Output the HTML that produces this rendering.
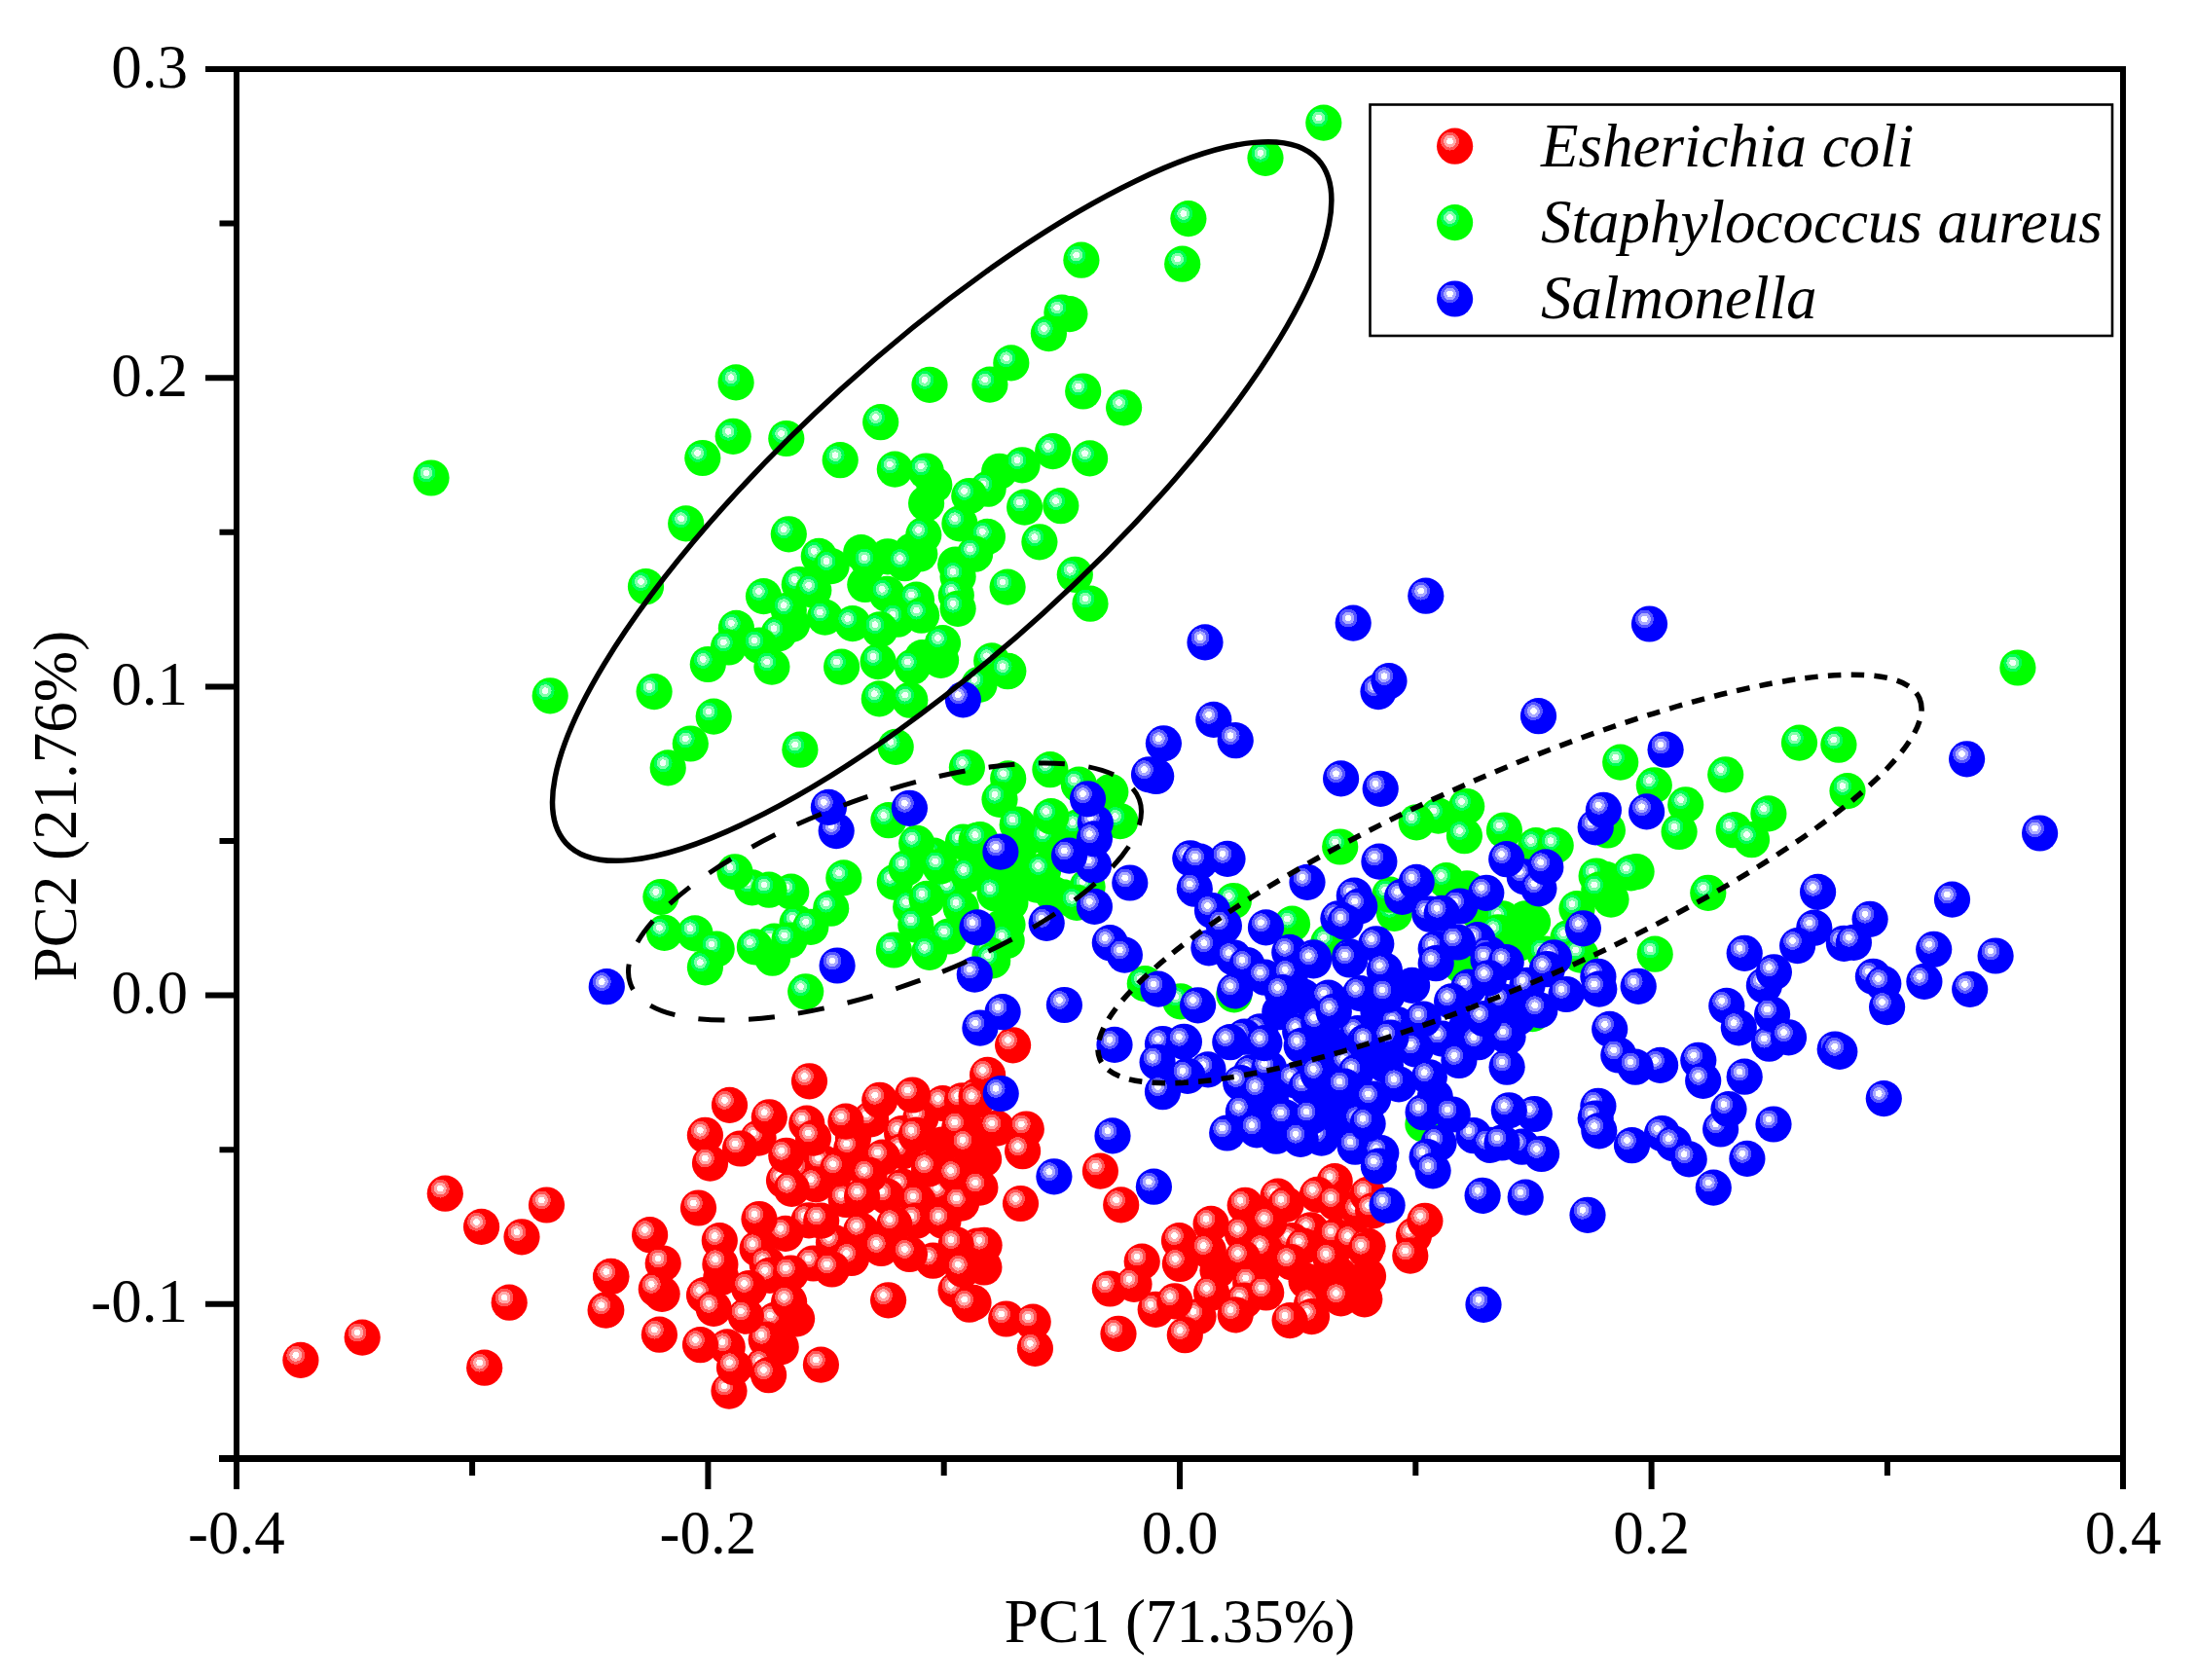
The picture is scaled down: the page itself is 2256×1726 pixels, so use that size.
<!DOCTYPE html>
<html><head><meta charset="utf-8"><title>PCA score plot</title>
<style>
html,body{margin:0;padding:0;background:#fff}
svg{display:block}
text{font-family:"Liberation Serif",serif;fill:#000}
.t{font-size:63px}
.lg{font-size:63px;font-style:italic}
</style></head><body>
<svg width="2256" height="1726" viewBox="0 0 2256 1726">
<defs>
<radialGradient id="gr" cx="0.363" cy="0.363" r="0.766" fx="0.363" fy="0.363">
<stop offset="0" stop-color="#fff"/><stop offset="0.119" stop-color="#fff"/>
<stop offset="0.119" stop-color="#ffaaaa"/><stop offset="0.2246" stop-color="#ffaaaa"/>
<stop offset="0.2246" stop-color="#ff5555"/><stop offset="0.33" stop-color="#ff5555"/>
<stop offset="0.33" stop-color="#ff0000"/><stop offset="1" stop-color="#ff0000"/>
</radialGradient>
<radialGradient id="gg" cx="0.363" cy="0.363" r="0.766" fx="0.363" fy="0.363">
<stop offset="0" stop-color="#f4fff8"/><stop offset="0.119" stop-color="#f4fff8"/>
<stop offset="0.119" stop-color="#80ffaa"/><stop offset="0.2246" stop-color="#80ffaa"/>
<stop offset="0.2246" stop-color="#00ff55"/><stop offset="0.33" stop-color="#00ff55"/>
<stop offset="0.33" stop-color="#00ff00"/><stop offset="1" stop-color="#00ff00"/>
</radialGradient>
<radialGradient id="gb" cx="0.363" cy="0.363" r="0.766" fx="0.363" fy="0.363">
<stop offset="0" stop-color="#fff"/><stop offset="0.119" stop-color="#fff"/>
<stop offset="0.119" stop-color="#aaaaff"/><stop offset="0.2246" stop-color="#aaaaff"/>
<stop offset="0.2246" stop-color="#5555ff"/><stop offset="0.33" stop-color="#5555ff"/>
<stop offset="0.33" stop-color="#0000ff"/><stop offset="1" stop-color="#0000ff"/>
</radialGradient>
</defs>
<rect width="2256" height="1726" fill="#fff"/>

<g fill="#ff0000">
<circle cx="1005.1" cy="1167.2" r="18.6"/>
<circle cx="1010.6" cy="1190.9" r="18.6"/>
<circle cx="818.6" cy="1354.8" r="18.6"/>
<circle cx="802.2" cy="1383.9" r="18.6"/>
<circle cx="740.8" cy="1312.5" r="18.6"/>
<circle cx="680.1" cy="1329.3" r="18.6"/>
<circle cx="1010.9" cy="1302" r="18.6"/>
<circle cx="1000" cy="1338.4" r="18.6"/>
<circle cx="1251" cy="1305.2" r="18.6"/>
<circle cx="1342.1" cy="1316.2" r="18.6"/>
<circle cx="1396.7" cy="1325.3" r="18.6"/>
<circle cx="1296.5" cy="1305.2" r="18.6"/>
<circle cx="1405.5" cy="1311.1" r="18.6"/>
<circle cx="1401.8" cy="1334.8" r="18.6"/>
<circle cx="968" cy="1176" r="18.6"/>
<circle cx="1376" cy="1310" r="18.6"/>
<circle cx="1360.1" cy="1320.1" r="18.6"/>
</g>
<g fill="url(#gr)">
<circle cx="779.1" cy="1169.1" r="18.6"/>
<circle cx="968.5" cy="1133.6" r="18.6"/>
<circle cx="894.7" cy="1149.9" r="18.6"/>
<circle cx="876.5" cy="1169.1" r="18.6"/>
<circle cx="874.7" cy="1180" r="18.6"/>
<circle cx="926.6" cy="1164.5" r="18.6"/>
<circle cx="945.7" cy="1149" r="18.6"/>
<circle cx="927.5" cy="1182.7" r="18.6"/>
<circle cx="906.6" cy="1189.1" r="18.6"/>
<circle cx="822.8" cy="1202.8" r="18.6"/>
<circle cx="845.5" cy="1194.6" r="18.6"/>
<circle cx="838.3" cy="1216.8" r="18.6"/>
<circle cx="805.5" cy="1212.8" r="18.6"/>
<circle cx="927.5" cy="1219.2" r="18.6"/>
<circle cx="869.2" cy="1232.5" r="18.6"/>
<circle cx="911.1" cy="1229.2" r="18.6"/>
<circle cx="967.6" cy="1225.5" r="18.6"/>
<circle cx="831" cy="1253.8" r="18.6"/>
<circle cx="806.9" cy="1267.4" r="18.6"/>
<circle cx="856.5" cy="1276.5" r="18.6"/>
<circle cx="831.5" cy="1110.8" r="18.6"/>
<circle cx="749.5" cy="1135.4" r="18.6"/>
<circle cx="790.3" cy="1147.8" r="18.6"/>
<circle cx="724.4" cy="1166.3" r="18.6"/>
<circle cx="760.5" cy="1180" r="18.6"/>
<circle cx="729.5" cy="1195.1" r="18.6"/>
<circle cx="903.8" cy="1130.3" r="18.6"/>
<circle cx="937.5" cy="1125" r="18.6"/>
<circle cx="988.5" cy="1130.8" r="18.6"/>
<circle cx="1003.1" cy="1126.3" r="18.6"/>
<circle cx="828.8" cy="1154.1" r="18.6"/>
<circle cx="868.9" cy="1152.1" r="18.6"/>
<circle cx="835.5" cy="1169.1" r="18.6"/>
<circle cx="807.8" cy="1187.3" r="18.6"/>
<circle cx="941.2" cy="1166.3" r="18.6"/>
<circle cx="985.8" cy="1158.1" r="18.6"/>
<circle cx="994" cy="1176.4" r="18.6"/>
<circle cx="860.7" cy="1200.9" r="18.6"/>
<circle cx="892.9" cy="1207.3" r="18.6"/>
<circle cx="954.5" cy="1200.9" r="18.6"/>
<circle cx="981.8" cy="1207.7" r="18.6"/>
<circle cx="813.3" cy="1221.3" r="18.6"/>
<circle cx="885.6" cy="1229.2" r="18.6"/>
<circle cx="943" cy="1234.1" r="18.6"/>
<circle cx="987.6" cy="1236.1" r="18.6"/>
<circle cx="717.5" cy="1241" r="18.6"/>
<circle cx="780" cy="1252.5" r="18.6"/>
<circle cx="843.7" cy="1254.1" r="18.6"/>
<circle cx="941.2" cy="1254.3" r="18.6"/>
<circle cx="969" cy="1254.3" r="18.6"/>
<circle cx="918.8" cy="1257.8" r="18.6"/>
<circle cx="884.7" cy="1264.3" r="18.6"/>
<circle cx="667.6" cy="1268.7" r="18.6"/>
<circle cx="739.3" cy="1274.7" r="18.6"/>
<circle cx="778.1" cy="1282.9" r="18.6"/>
<circle cx="904.7" cy="1281.1" r="18.6"/>
<circle cx="1004" cy="1280.2" r="18.6"/>
<circle cx="1003.3" cy="1130.8" r="18.6"/>
<circle cx="1312.9" cy="1229.2" r="18.6"/>
<circle cx="1371.2" cy="1213.7" r="18.6"/>
<circle cx="1346.6" cy="1263.8" r="18.6"/>
<circle cx="1327.5" cy="1274.7" r="18.6"/>
<circle cx="1040.6" cy="1073.8" r="18.6"/>
<circle cx="1014.6" cy="1104.4" r="18.6"/>
<circle cx="1023.9" cy="1159.1" r="18.6"/>
<circle cx="1054.3" cy="1160" r="18.6"/>
<circle cx="1050.6" cy="1182.7" r="18.6"/>
<circle cx="1006.9" cy="1220.1" r="18.6"/>
<circle cx="1048.5" cy="1236.5" r="18.6"/>
<circle cx="1130.4" cy="1203.1" r="18.6"/>
<circle cx="1151.7" cy="1237.9" r="18.6"/>
<circle cx="1011.1" cy="1279.3" r="18.6"/>
<circle cx="1279.2" cy="1238.3" r="18.6"/>
<circle cx="1321.1" cy="1237.4" r="18.6"/>
<circle cx="1353.4" cy="1227.4" r="18.6"/>
<circle cx="1372.1" cy="1235.6" r="18.6"/>
<circle cx="1396.7" cy="1244.7" r="18.6"/>
<circle cx="1244.1" cy="1257.4" r="18.6"/>
<circle cx="1303.8" cy="1256.5" r="18.6"/>
<circle cx="1276.5" cy="1267.4" r="18.6"/>
<circle cx="1372.1" cy="1270.2" r="18.6"/>
<circle cx="1211.5" cy="1274.7" r="18.6"/>
<circle cx="1299.3" cy="1283.8" r="18.6"/>
<circle cx="1339.3" cy="1280.2" r="18.6"/>
<circle cx="1389.4" cy="1274.7" r="18.6"/>
<circle cx="1405.1" cy="1227.4" r="18.6"/>
<circle cx="1410.6" cy="1243.8" r="18.6"/>
<circle cx="1452.5" cy="1269.3" r="18.6"/>
<circle cx="1463.9" cy="1254.3" r="18.6"/>
<circle cx="1405.1" cy="1280.2" r="18.6"/>
<circle cx="457.3" cy="1226.2" r="18.6"/>
<circle cx="494.6" cy="1260.4" r="18.6"/>
<circle cx="561.5" cy="1238" r="18.6"/>
<circle cx="536" cy="1270.8" r="18.6"/>
<circle cx="627.6" cy="1311.4" r="18.6"/>
<circle cx="622.1" cy="1346" r="18.6"/>
<circle cx="523.2" cy="1338.2" r="18.6"/>
<circle cx="372.2" cy="1374.1" r="18.6"/>
<circle cx="308.9" cy="1397.4" r="18.6"/>
<circle cx="497.7" cy="1405.2" r="18.6"/>
<circle cx="788.2" cy="1298.9" r="18.6"/>
<circle cx="835.5" cy="1298" r="18.6"/>
<circle cx="874.7" cy="1292.5" r="18.6"/>
<circle cx="958.5" cy="1295.2" r="18.6"/>
<circle cx="982.1" cy="1278.8" r="18.6"/>
<circle cx="723.5" cy="1330.7" r="18.6"/>
<circle cx="796.4" cy="1356.2" r="18.6"/>
<circle cx="982.1" cy="1325.3" r="18.6"/>
<circle cx="747.2" cy="1383.9" r="18.6"/>
<circle cx="787.2" cy="1376.3" r="18.6"/>
<circle cx="784.5" cy="1402.7" r="18.6"/>
<circle cx="749" cy="1429.1" r="18.6"/>
<circle cx="681.2" cy="1298" r="18.6"/>
<circle cx="627.9" cy="1311.6" r="18.6"/>
<circle cx="674.3" cy="1324.4" r="18.6"/>
<circle cx="622.8" cy="1345.9" r="18.6"/>
<circle cx="677.4" cy="1371.2" r="18.6"/>
<circle cx="739.9" cy="1298.9" r="18.6"/>
<circle cx="790.9" cy="1310.3" r="18.6"/>
<circle cx="812.4" cy="1308" r="18.6"/>
<circle cx="854.6" cy="1304" r="18.6"/>
<circle cx="905.3" cy="1282.5" r="18.6"/>
<circle cx="934.4" cy="1288.5" r="18.6"/>
<circle cx="989.4" cy="1304.3" r="18.6"/>
<circle cx="769.6" cy="1323.5" r="18.6"/>
<circle cx="733.2" cy="1344.4" r="18.6"/>
<circle cx="766.3" cy="1352.1" r="18.6"/>
<circle cx="810.6" cy="1337.5" r="18.6"/>
<circle cx="912.6" cy="1335.8" r="18.6"/>
<circle cx="995.8" cy="1340.2" r="18.6"/>
<circle cx="719.5" cy="1381.7" r="18.6"/>
<circle cx="754.5" cy="1404.9" r="18.6"/>
<circle cx="789.6" cy="1412.7" r="18.6"/>
<circle cx="843.4" cy="1402.1" r="18.6"/>
<circle cx="1276.5" cy="1292.5" r="18.6"/>
<circle cx="1326.6" cy="1296.7" r="18.6"/>
<circle cx="1284.7" cy="1318" r="18.6"/>
<circle cx="1187.2" cy="1345.3" r="18.6"/>
<circle cx="1231" cy="1352.6" r="18.6"/>
<circle cx="1347.5" cy="1339.9" r="18.6"/>
<circle cx="1278.3" cy="1336.2" r="18.6"/>
<circle cx="1347.5" cy="1352.6" r="18.6"/>
<circle cx="1217.3" cy="1371.7" r="18.6"/>
<circle cx="1241.3" cy="1284.7" r="18.6"/>
<circle cx="1173.2" cy="1296.1" r="18.6"/>
<circle cx="1212.4" cy="1298.5" r="18.6"/>
<circle cx="1367.2" cy="1293.4" r="18.6"/>
<circle cx="1403.1" cy="1284.3" r="18.6"/>
<circle cx="1140.3" cy="1324" r="18.6"/>
<circle cx="1165" cy="1319.3" r="18.6"/>
<circle cx="1244.6" cy="1328.4" r="18.6"/>
<circle cx="1300.7" cy="1328" r="18.6"/>
<circle cx="1377.6" cy="1333.8" r="18.6"/>
<circle cx="1206.9" cy="1336.8" r="18.6"/>
<circle cx="1269.2" cy="1350.8" r="18.6"/>
<circle cx="1325.1" cy="1356.6" r="18.6"/>
<circle cx="1033.7" cy="1355" r="18.6"/>
<circle cx="1061.2" cy="1358.1" r="18.6"/>
<circle cx="1063.4" cy="1385.4" r="18.6"/>
<circle cx="1149" cy="1370.3" r="18.6"/>
<circle cx="1448.8" cy="1290.1" r="18.6"/>
</g>
<g fill="#00ff00">
<circle cx="1047" cy="870.9" r="18.6"/>
<circle cx="1065.2" cy="909.1" r="18.6"/>
<circle cx="1037.9" cy="927.4" r="18.6"/>
<circle cx="1016" cy="890.9" r="18.6"/>
<circle cx="1081.6" cy="918.3" r="18.6"/>
<circle cx="1140.8" cy="813.5" r="18.6"/>
<circle cx="1092.5" cy="921.9" r="18.6"/>
<circle cx="1028.8" cy="952.9" r="18.6"/>
<circle cx="1651.4" cy="853" r="18.6"/>
<circle cx="1681.1" cy="895.5" r="18.6"/>
<circle cx="1655" cy="924.1" r="18.6"/>
<circle cx="1518" cy="936.5" r="18.6"/>
<circle cx="1559.9" cy="969.3" r="18.6"/>
<circle cx="1574.5" cy="947.4" r="18.6"/>
<circle cx="1507.1" cy="912.8" r="18.6"/>
<circle cx="1567.2" cy="943.8" r="18.6"/>
<circle cx="793.6" cy="984.2" r="18.6"/>
<circle cx="1267.8" cy="1021.9" r="18.6"/>
<circle cx="1501.6" cy="992.4" r="18.6"/>
<circle cx="1574.5" cy="1041.6" r="18.6"/>
<circle cx="1461.9" cy="1154.9" r="18.6"/>
<circle cx="1040" cy="895" r="18.6"/>
<circle cx="1035" cy="950" r="18.6"/>
<circle cx="959.8" cy="498" r="18.6"/>
<circle cx="951.6" cy="517.1" r="18.6"/>
<circle cx="936.6" cy="566.3" r="18.6"/>
<circle cx="944.8" cy="569" r="18.6"/>
<circle cx="884.7" cy="567.7" r="18.6"/>
<circle cx="912" cy="571.8" r="18.6"/>
<circle cx="888.8" cy="600.5" r="18.6"/>
<circle cx="981.7" cy="580" r="18.6"/>
<circle cx="1026.7" cy="484.3" r="18.6"/>
<circle cx="813.6" cy="641.4" r="18.6"/>
<circle cx="947.5" cy="675.6" r="18.6"/>
<circle cx="966.6" cy="678.3" r="18.6"/>
</g>
<g fill="url(#gg)">
<circle cx="1300" cy="162.3" r="18.6"/>
<circle cx="1220.9" cy="224.6" r="18.6"/>
<circle cx="1214.7" cy="271.2" r="18.6"/>
<circle cx="1110.9" cy="267.2" r="18.6"/>
<circle cx="1098.9" cy="322.6" r="18.6"/>
<circle cx="1090.9" cy="321.1" r="18.6"/>
<circle cx="1077.4" cy="342.6" r="18.6"/>
<circle cx="1038.8" cy="372.9" r="18.6"/>
<circle cx="1016.9" cy="395.1" r="18.6"/>
<circle cx="955" cy="395.4" r="18.6"/>
<circle cx="1112.7" cy="402" r="18.6"/>
<circle cx="1154.6" cy="418.8" r="18.6"/>
<circle cx="756.1" cy="392.9" r="18.6"/>
<circle cx="753.2" cy="448.3" r="18.6"/>
<circle cx="807.8" cy="450.5" r="18.6"/>
<circle cx="904.7" cy="433.7" r="18.6"/>
<circle cx="721.8" cy="470.5" r="18.6"/>
<circle cx="863.2" cy="472.7" r="18.6"/>
<circle cx="919.3" cy="482.1" r="18.6"/>
<circle cx="951.3" cy="484" r="18.6"/>
<circle cx="1081.7" cy="463.6" r="18.6"/>
<circle cx="1119.6" cy="470.9" r="18.6"/>
<circle cx="1050.1" cy="477.8" r="18.6"/>
<circle cx="1015.1" cy="502.2" r="18.6"/>
<circle cx="995.8" cy="509.5" r="18.6"/>
<circle cx="1052.6" cy="521.1" r="18.6"/>
<circle cx="1089.8" cy="519.7" r="18.6"/>
<circle cx="985.9" cy="537.9" r="18.6"/>
<circle cx="948.8" cy="549.5" r="18.6"/>
<circle cx="1014.4" cy="551.4" r="18.6"/>
<circle cx="1067.9" cy="556.8" r="18.6"/>
<circle cx="704.7" cy="537.9" r="18.6"/>
<circle cx="810.3" cy="548.8" r="18.6"/>
<circle cx="841.3" cy="571.4" r="18.6"/>
<circle cx="854.1" cy="581.6" r="18.6"/>
<circle cx="893" cy="578" r="18.6"/>
<circle cx="929.5" cy="578.7" r="18.6"/>
<circle cx="1001.6" cy="569.2" r="18.6"/>
<circle cx="984.1" cy="592.5" r="18.6"/>
<circle cx="1104.3" cy="590.3" r="18.6"/>
<circle cx="1035.1" cy="603.1" r="18.6"/>
<circle cx="663.5" cy="602.7" r="18.6"/>
<circle cx="821.3" cy="600.5" r="18.6"/>
<circle cx="835.8" cy="606.4" r="18.6"/>
<circle cx="784.5" cy="612.6" r="18.6"/>
<circle cx="911.3" cy="610.4" r="18.6"/>
<circle cx="941.5" cy="616.2" r="18.6"/>
<circle cx="982.3" cy="611.5" r="18.6"/>
<circle cx="984.1" cy="625.3" r="18.6"/>
<circle cx="1120" cy="620.2" r="18.6"/>
<circle cx="810.3" cy="626.8" r="18.6"/>
<circle cx="847.5" cy="634.1" r="18.6"/>
<circle cx="875.9" cy="640.6" r="18.6"/>
<circle cx="922.2" cy="636.2" r="18.6"/>
<circle cx="946.6" cy="632.2" r="18.6"/>
<circle cx="904" cy="646.8" r="18.6"/>
<circle cx="756.4" cy="645.4" r="18.6"/>
<circle cx="800.1" cy="650.8" r="18.6"/>
<circle cx="748.4" cy="665" r="18.6"/>
<circle cx="780.1" cy="663.2" r="18.6"/>
<circle cx="968.5" cy="660.7" r="18.6"/>
<circle cx="727.3" cy="682.5" r="18.6"/>
<circle cx="792.9" cy="685.1" r="18.6"/>
<circle cx="864.6" cy="685.1" r="18.6"/>
<circle cx="902.1" cy="679.6" r="18.6"/>
<circle cx="937.5" cy="685.1" r="18.6"/>
<circle cx="1018.7" cy="678.9" r="18.6"/>
<circle cx="1035.8" cy="689.4" r="18.6"/>
<circle cx="772.7" cy="911.9" r="18.6"/>
<circle cx="812.8" cy="916.1" r="18.6"/>
<circle cx="919.3" cy="906.4" r="18.6"/>
<circle cx="977.6" cy="913.7" r="18.6"/>
<circle cx="935.7" cy="931.9" r="18.6"/>
<circle cx="959.4" cy="879.1" r="18.6"/>
<circle cx="795.4" cy="967.1" r="18.6"/>
<circle cx="819.1" cy="948.3" r="18.6"/>
<circle cx="672.1" cy="710.6" r="18.6"/>
<circle cx="733.2" cy="736.1" r="18.6"/>
<circle cx="709.3" cy="764" r="18.6"/>
<circle cx="686.2" cy="788.9" r="18.6"/>
<circle cx="821.9" cy="770.2" r="18.6"/>
<circle cx="903.3" cy="717.9" r="18.6"/>
<circle cx="934.8" cy="719.2" r="18.6"/>
<circle cx="920.2" cy="767.4" r="18.6"/>
<circle cx="993.4" cy="788.6" r="18.6"/>
<circle cx="912.9" cy="842.7" r="18.6"/>
<circle cx="941.7" cy="866.3" r="18.6"/>
<circle cx="989.4" cy="865.1" r="18.6"/>
<circle cx="1003.1" cy="863.6" r="18.6"/>
<circle cx="755" cy="895.8" r="18.6"/>
<circle cx="790" cy="914.2" r="18.6"/>
<circle cx="866.8" cy="901.9" r="18.6"/>
<circle cx="853.7" cy="933.2" r="18.6"/>
<circle cx="678.9" cy="921.5" r="18.6"/>
<circle cx="682.5" cy="958.3" r="18.6"/>
<circle cx="714" cy="958.9" r="18.6"/>
<circle cx="736.2" cy="975.1" r="18.6"/>
<circle cx="775.4" cy="972.9" r="18.6"/>
<circle cx="810.9" cy="966" r="18.6"/>
<circle cx="832.8" cy="952.3" r="18.6"/>
<circle cx="931.1" cy="891.8" r="18.6"/>
<circle cx="965.8" cy="890" r="18.6"/>
<circle cx="994.9" cy="898.6" r="18.6"/>
<circle cx="952.1" cy="923.4" r="18.6"/>
<circle cx="987.2" cy="932.5" r="18.6"/>
<circle cx="940.8" cy="950.1" r="18.6"/>
<circle cx="974.9" cy="962" r="18.6"/>
<circle cx="918.4" cy="976" r="18.6"/>
<circle cx="954.8" cy="978.4" r="18.6"/>
<circle cx="1076.1" cy="860.9" r="18.6"/>
<circle cx="1107.1" cy="849.9" r="18.6"/>
<circle cx="1035.2" cy="689.7" r="18.6"/>
<circle cx="1006" cy="703.3" r="18.6"/>
<circle cx="1035.7" cy="799.9" r="18.6"/>
<circle cx="1078.9" cy="790.7" r="18.6"/>
<circle cx="1108.4" cy="806.2" r="18.6"/>
<circle cx="1027" cy="821.3" r="18.6"/>
<circle cx="1079.8" cy="838.7" r="18.6"/>
<circle cx="1045.2" cy="847.2" r="18.6"/>
<circle cx="1006.9" cy="862.7" r="18.6"/>
<circle cx="1071.6" cy="894.6" r="18.6"/>
<circle cx="1022" cy="917.9" r="18.6"/>
<circle cx="1150.8" cy="843.6" r="18.6"/>
<circle cx="1117.1" cy="911" r="18.6"/>
<circle cx="1106.2" cy="927.4" r="18.6"/>
<circle cx="1034.2" cy="966.5" r="18.6"/>
<circle cx="1016.9" cy="981.1" r="18.6"/>
<circle cx="1376.7" cy="870" r="18.6"/>
<circle cx="1267.4" cy="925.5" r="18.6"/>
<circle cx="1327.5" cy="949.2" r="18.6"/>
<circle cx="1364.8" cy="968.3" r="18.6"/>
<circle cx="1579.1" cy="882.7" r="18.6"/>
<circle cx="1543.5" cy="943.8" r="18.6"/>
<circle cx="1432.4" cy="938.3" r="18.6"/>
<circle cx="1427.9" cy="919.2" r="18.6"/>
<circle cx="1650.1" cy="903.7" r="18.6"/>
<circle cx="1664.7" cy="783.1" r="18.6"/>
<circle cx="1699.3" cy="806.8" r="18.6"/>
<circle cx="1772.7" cy="795.8" r="18.6"/>
<circle cx="1731.7" cy="826.8" r="18.6"/>
<circle cx="1725.1" cy="854.5" r="18.6"/>
<circle cx="1781.2" cy="852.7" r="18.6"/>
<circle cx="1799.5" cy="862.7" r="18.6"/>
<circle cx="1506.7" cy="828.5" r="18.6"/>
<circle cx="1477.6" cy="838.1" r="18.6"/>
<circle cx="1455.2" cy="844.8" r="18.6"/>
<circle cx="1504.4" cy="858.7" r="18.6"/>
<circle cx="1545.4" cy="853" r="18.6"/>
<circle cx="1577.8" cy="868.7" r="18.6"/>
<circle cx="1598.2" cy="868.7" r="18.6"/>
<circle cx="1675.6" cy="896.9" r="18.6"/>
<circle cx="1640.1" cy="900" r="18.6"/>
<circle cx="1642.8" cy="914.1" r="18.6"/>
<circle cx="1620" cy="933.7" r="18.6"/>
<circle cx="1754.8" cy="917.3" r="18.6"/>
<circle cx="1485.8" cy="904.6" r="18.6"/>
<circle cx="1539" cy="957.8" r="18.6"/>
<circle cx="1610.9" cy="963.8" r="18.6"/>
<circle cx="1587.2" cy="980.2" r="18.6"/>
<circle cx="1623.7" cy="981.1" r="18.6"/>
<circle cx="1700.2" cy="980.2" r="18.6"/>
<circle cx="2072.9" cy="686" r="18.6"/>
<circle cx="1848.5" cy="763.1" r="18.6"/>
<circle cx="1888.9" cy="765.2" r="18.6"/>
<circle cx="1898" cy="812.6" r="18.6"/>
<circle cx="1816.9" cy="835.9" r="18.6"/>
<circle cx="724.4" cy="993.8" r="18.6"/>
<circle cx="827.7" cy="1018.8" r="18.6"/>
<circle cx="1019.7" cy="986.9" r="18.6"/>
<circle cx="1176.3" cy="1010.6" r="18.6"/>
<circle cx="1212.8" cy="1028.8" r="18.6"/>
<circle cx="443" cy="491" r="18.6"/>
<circle cx="1359.8" cy="126.1" r="18.6"/>
<circle cx="565.2" cy="714.8" r="18.6"/>
</g>
<g fill="#0000ff">
<circle cx="1314.8" cy="1039.7" r="18.6"/>
<circle cx="1305.6" cy="1130.8" r="18.6"/>
<circle cx="1369.4" cy="1130.8" r="18.6"/>
<circle cx="1365.8" cy="1072.5" r="18.6"/>
<circle cx="1396.7" cy="1127.2" r="18.6"/>
<circle cx="1311.1" cy="1167.2" r="18.6"/>
<circle cx="1373" cy="1156.3" r="18.6"/>
<circle cx="1450.6" cy="1012.4" r="18.6"/>
<circle cx="1505.3" cy="1058" r="18.6"/>
<circle cx="1423.3" cy="1094.4" r="18.6"/>
<circle cx="1559.9" cy="1045.2" r="18.6"/>
<circle cx="1474.3" cy="1127.2" r="18.6"/>
<circle cx="1416" cy="1039.7" r="18.6"/>
<circle cx="1187.7" cy="797.5" r="18.6"/>
<circle cx="1338.7" cy="1023.9" r="18.6"/>
</g>
<g fill="url(#gb)">
<circle cx="1238" cy="659.9" r="18.6"/>
<circle cx="989.4" cy="718.8" r="18.6"/>
<circle cx="859.2" cy="853.6" r="18.6"/>
<circle cx="851.4" cy="829.4" r="18.6"/>
<circle cx="934.4" cy="830.3" r="18.6"/>
<circle cx="1004" cy="952.9" r="18.6"/>
<circle cx="1246.8" cy="739.4" r="18.6"/>
<circle cx="1269.2" cy="760.7" r="18.6"/>
<circle cx="1195.4" cy="763.8" r="18.6"/>
<circle cx="1180.5" cy="795.8" r="18.6"/>
<circle cx="1377.6" cy="799.9" r="18.6"/>
<circle cx="1125.3" cy="845.4" r="18.6"/>
<circle cx="1123.5" cy="889.1" r="18.6"/>
<circle cx="1117.5" cy="820.8" r="18.6"/>
<circle cx="1124.4" cy="861.8" r="18.6"/>
<circle cx="1098.5" cy="879.1" r="18.6"/>
<circle cx="1027.9" cy="875.1" r="18.6"/>
<circle cx="1160.8" cy="907" r="18.6"/>
<circle cx="1124.4" cy="931.4" r="18.6"/>
<circle cx="1075.2" cy="948.3" r="18.6"/>
<circle cx="1222.8" cy="881.8" r="18.6"/>
<circle cx="1232.8" cy="885.1" r="18.6"/>
<circle cx="1261" cy="882.4" r="18.6"/>
<circle cx="1227.3" cy="913.2" r="18.6"/>
<circle cx="1245.5" cy="935.6" r="18.6"/>
<circle cx="1257.4" cy="951" r="18.6"/>
<circle cx="1343" cy="906.4" r="18.6"/>
<circle cx="1300.5" cy="952.9" r="18.6"/>
<circle cx="1391.3" cy="920.1" r="18.6"/>
<circle cx="1396.7" cy="931" r="18.6"/>
<circle cx="1374.9" cy="943.8" r="18.6"/>
<circle cx="1382.1" cy="947.4" r="18.6"/>
<circle cx="1241.9" cy="973.8" r="18.6"/>
<circle cx="1140.3" cy="968.7" r="18.6"/>
<circle cx="1155.4" cy="981.1" r="18.6"/>
<circle cx="1324.8" cy="978.4" r="18.6"/>
<circle cx="1349.4" cy="983.8" r="18.6"/>
<circle cx="1386.7" cy="982.9" r="18.6"/>
<circle cx="1267.4" cy="983.8" r="18.6"/>
<circle cx="1416" cy="710.6" r="18.6"/>
<circle cx="1427" cy="699.7" r="18.6"/>
<circle cx="1580.5" cy="735.7" r="18.6"/>
<circle cx="1418.2" cy="810.4" r="18.6"/>
<circle cx="1711.1" cy="770.2" r="18.6"/>
<circle cx="1639.2" cy="849.9" r="18.6"/>
<circle cx="1647.4" cy="832.3" r="18.6"/>
<circle cx="1691.6" cy="833.9" r="18.6"/>
<circle cx="1416.9" cy="885.1" r="18.6"/>
<circle cx="1566.3" cy="900.9" r="18.6"/>
<circle cx="1580.9" cy="912.8" r="18.6"/>
<circle cx="1547.7" cy="882.7" r="18.6"/>
<circle cx="1587.8" cy="890.9" r="18.6"/>
<circle cx="1440.6" cy="921.3" r="18.6"/>
<circle cx="1455.2" cy="906.4" r="18.6"/>
<circle cx="1526.8" cy="917.3" r="18.6"/>
<circle cx="1468.9" cy="939.2" r="18.6"/>
<circle cx="1499.8" cy="931" r="18.6"/>
<circle cx="1481.2" cy="938.3" r="18.6"/>
<circle cx="1626.4" cy="953.8" r="18.6"/>
<circle cx="1413.8" cy="969.8" r="18.6"/>
<circle cx="1518" cy="965.6" r="18.6"/>
<circle cx="1475.2" cy="974.7" r="18.6"/>
<circle cx="1497.4" cy="968" r="18.6"/>
<circle cx="1529.9" cy="980.2" r="18.6"/>
<circle cx="1792.2" cy="979.3" r="18.6"/>
<circle cx="1596.4" cy="983.8" r="18.6"/>
<circle cx="2020.6" cy="779.8" r="18.6"/>
<circle cx="2095.6" cy="856" r="18.6"/>
<circle cx="1867.6" cy="916.4" r="18.6"/>
<circle cx="2005.5" cy="924.1" r="18.6"/>
<circle cx="1921.1" cy="944.3" r="18.6"/>
<circle cx="1863.8" cy="953.2" r="18.6"/>
<circle cx="1846.6" cy="971.6" r="18.6"/>
<circle cx="1894.4" cy="969.3" r="18.6"/>
<circle cx="1904.4" cy="968.3" r="18.6"/>
<circle cx="1986.7" cy="975.3" r="18.6"/>
<circle cx="2050.1" cy="982" r="18.6"/>
<circle cx="623.3" cy="1013.7" r="18.6"/>
<circle cx="860.1" cy="992" r="18.6"/>
<circle cx="1001.3" cy="1001.1" r="18.6"/>
<circle cx="1294.7" cy="1059.8" r="18.6"/>
<circle cx="1278.3" cy="1065.2" r="18.6"/>
<circle cx="1263.8" cy="1070.7" r="18.6"/>
<circle cx="1335.7" cy="1059.8" r="18.6"/>
<circle cx="1354.8" cy="1050.7" r="18.6"/>
<circle cx="1394.9" cy="1061.6" r="18.6"/>
<circle cx="1285.6" cy="1101.7" r="18.6"/>
<circle cx="1303.8" cy="1098" r="18.6"/>
<circle cx="1330.2" cy="1109.9" r="18.6"/>
<circle cx="1342.1" cy="1117.2" r="18.6"/>
<circle cx="1384.9" cy="1092.6" r="18.6"/>
<circle cx="1393.1" cy="1101.7" r="18.6"/>
<circle cx="1357.6" cy="1169.1" r="18.6"/>
<circle cx="1194.5" cy="1072.5" r="18.6"/>
<circle cx="1241" cy="1098.9" r="18.6"/>
<circle cx="1030.1" cy="1039.7" r="18.6"/>
<circle cx="1006.9" cy="1056.1" r="18.6"/>
<circle cx="1093.4" cy="1032.5" r="18.6"/>
<circle cx="1028.2" cy="1123.5" r="18.6"/>
<circle cx="1190" cy="1016.1" r="18.6"/>
<circle cx="1230.6" cy="1032.8" r="18.6"/>
<circle cx="1145" cy="1073.4" r="18.6"/>
<circle cx="1216.4" cy="1070.3" r="18.6"/>
<circle cx="1189.1" cy="1091.3" r="18.6"/>
<circle cx="1220" cy="1105.3" r="18.6"/>
<circle cx="1194.5" cy="1121.7" r="18.6"/>
<circle cx="1143" cy="1166.9" r="18.6"/>
<circle cx="1082.9" cy="1208.8" r="18.6"/>
<circle cx="1185.4" cy="1219.2" r="18.6"/>
<circle cx="1281.1" cy="991.5" r="18.6"/>
<circle cx="1299.6" cy="1004.2" r="18.6"/>
<circle cx="1325.3" cy="1001.5" r="18.6"/>
<circle cx="1349.4" cy="986.9" r="18.6"/>
<circle cx="1386.7" cy="986" r="18.6"/>
<circle cx="1268.7" cy="1017.9" r="18.6"/>
<circle cx="1317.5" cy="1019.7" r="18.6"/>
<circle cx="1364.8" cy="1025.2" r="18.6"/>
<circle cx="1397.6" cy="1020.6" r="18.6"/>
<circle cx="1370.3" cy="1039.4" r="18.6"/>
<circle cx="1298.9" cy="1071.6" r="18.6"/>
<circle cx="1337.2" cy="1074.4" r="18.6"/>
<circle cx="1402.2" cy="1070.7" r="18.6"/>
<circle cx="1274.7" cy="1112.6" r="18.6"/>
<circle cx="1294.2" cy="1120.8" r="18.6"/>
<circle cx="1354.3" cy="1103.5" r="18.6"/>
<circle cx="1381.2" cy="1116.2" r="18.6"/>
<circle cx="1277.4" cy="1142.3" r="18.6"/>
<circle cx="1320.8" cy="1148.1" r="18.6"/>
<circle cx="1347.2" cy="1147.2" r="18.6"/>
<circle cx="1397.6" cy="1151.8" r="18.6"/>
<circle cx="1260.7" cy="1164" r="18.6"/>
<circle cx="1291.1" cy="1160.9" r="18.6"/>
<circle cx="1336.1" cy="1170.3" r="18.6"/>
<circle cx="1392.2" cy="1178.2" r="18.6"/>
<circle cx="1641.9" cy="1003.3" r="18.6"/>
<circle cx="1508.9" cy="1014.2" r="18.6"/>
<circle cx="1569" cy="1012.4" r="18.6"/>
<circle cx="1543.5" cy="1028.8" r="18.6"/>
<circle cx="1581.8" cy="1037.9" r="18.6"/>
<circle cx="1435.2" cy="1052.5" r="18.6"/>
<circle cx="1405.1" cy="1070.7" r="18.6"/>
<circle cx="1481.6" cy="1067.1" r="18.6"/>
<circle cx="1518.9" cy="1070.7" r="18.6"/>
<circle cx="1549" cy="1065.2" r="18.6"/>
<circle cx="1454.3" cy="1078" r="18.6"/>
<circle cx="1410.6" cy="1129" r="18.6"/>
<circle cx="1705.6" cy="1094.4" r="18.6"/>
<circle cx="1767.6" cy="1160" r="18.6"/>
<circle cx="1576.3" cy="1144.5" r="18.6"/>
<circle cx="1641.9" cy="1136.3" r="18.6"/>
<circle cx="1639.2" cy="1149" r="18.6"/>
<circle cx="1707.5" cy="1164.5" r="18.6"/>
<circle cx="1514" cy="1166.7" r="18.6"/>
<circle cx="1478" cy="1174.5" r="18.6"/>
<circle cx="1530.8" cy="1176.4" r="18.6"/>
<circle cx="1563.6" cy="1178.2" r="18.6"/>
<circle cx="1583.6" cy="1185.5" r="18.6"/>
<circle cx="1466.1" cy="1188.7" r="18.6"/>
<circle cx="1418.8" cy="1184.6" r="18.6"/>
<circle cx="1405.1" cy="1154.5" r="18.6"/>
<circle cx="1422.4" cy="996.9" r="18.6"/>
<circle cx="1475.2" cy="989.7" r="18.6"/>
<circle cx="1529" cy="986" r="18.6"/>
<circle cx="1547.2" cy="988.7" r="18.6"/>
<circle cx="1589.4" cy="995.7" r="18.6"/>
<circle cx="1642.8" cy="1016.1" r="18.6"/>
<circle cx="1683.2" cy="1013.3" r="18.6"/>
<circle cx="1773.8" cy="1033.4" r="18.6"/>
<circle cx="1786.3" cy="1055.8" r="18.6"/>
<circle cx="1425.1" cy="1022.1" r="18.6"/>
<circle cx="1529.5" cy="1004.8" r="18.6"/>
<circle cx="1491.6" cy="1028.8" r="18.6"/>
<circle cx="1609.1" cy="1021.5" r="18.6"/>
<circle cx="1462.1" cy="1047" r="18.6"/>
<circle cx="1524.8" cy="1046.5" r="18.6"/>
<circle cx="1428.8" cy="1066.2" r="18.6"/>
<circle cx="1498.9" cy="1089.5" r="18.6"/>
<circle cx="1548.1" cy="1096.2" r="18.6"/>
<circle cx="1468.3" cy="1106.8" r="18.6"/>
<circle cx="1437" cy="1113.9" r="18.6"/>
<circle cx="1653.7" cy="1057.4" r="18.6"/>
<circle cx="1662.8" cy="1084" r="18.6"/>
<circle cx="1680.1" cy="1096.2" r="18.6"/>
<circle cx="1744.8" cy="1089.3" r="18.6"/>
<circle cx="1749.7" cy="1110.4" r="18.6"/>
<circle cx="1792.2" cy="1106.2" r="18.6"/>
<circle cx="1776" cy="1139.6" r="18.6"/>
<circle cx="1462.1" cy="1142.7" r="18.6"/>
<circle cx="1492.2" cy="1145" r="18.6"/>
<circle cx="1550.3" cy="1140.8" r="18.6"/>
<circle cx="1642.8" cy="1161.8" r="18.6"/>
<circle cx="1676.5" cy="1176.7" r="18.6"/>
<circle cx="1719.3" cy="1174.9" r="18.6"/>
<circle cx="1735.2" cy="1190.9" r="18.6"/>
<circle cx="1794.9" cy="1190.4" r="18.6"/>
<circle cx="1760.3" cy="1220.1" r="18.6"/>
<circle cx="1543" cy="1174" r="18.6"/>
<circle cx="1472.1" cy="1202.8" r="18.6"/>
<circle cx="1416.4" cy="1198.2" r="18.6"/>
<circle cx="1425.1" cy="1238.3" r="18.6"/>
<circle cx="1523.1" cy="1228.3" r="18.6"/>
<circle cx="1567.2" cy="1230.1" r="18.6"/>
<circle cx="1631" cy="1248.3" r="18.6"/>
<circle cx="1812.4" cy="1012.4" r="18.6"/>
<circle cx="1924.4" cy="1003.3" r="18.6"/>
<circle cx="1817.5" cy="1072.2" r="18.6"/>
<circle cx="1885.2" cy="1078" r="18.6"/>
<circle cx="1822.4" cy="998.8" r="18.6"/>
<circle cx="1934.8" cy="1010.6" r="18.6"/>
<circle cx="1976.9" cy="1008.4" r="18.6"/>
<circle cx="2023.7" cy="1016.4" r="18.6"/>
<circle cx="1938.6" cy="1034.6" r="18.6"/>
<circle cx="1820.6" cy="1042.1" r="18.6"/>
<circle cx="1837.5" cy="1065.8" r="18.6"/>
<circle cx="1889.8" cy="1080.4" r="18.6"/>
<circle cx="1935.3" cy="1128.6" r="18.6"/>
<circle cx="1822" cy="1155" r="18.6"/>
<circle cx="1524" cy="1340.4" r="18.6"/>
<circle cx="1390.2" cy="640.1" r="18.6"/>
<circle cx="1464.8" cy="612.2" r="18.6"/>
<circle cx="1694.5" cy="641" r="18.6"/>
</g>
<g fill="none" stroke="#000">
<ellipse cx="967.7" cy="515" rx="522" ry="155" transform="rotate(-42.26 967.7 515)" stroke-width="5.5"/>
<ellipse cx="909" cy="916" rx="278" ry="98" transform="rotate(-19.9 909 916)" stroke-width="5" stroke-dasharray="27 24.5"/>
<ellipse cx="1551" cy="903" rx="460" ry="107" transform="rotate(-23.8 1551 903)" stroke-width="5.5" stroke-dasharray="13.5 10.3"/>
</g>
<g stroke="#000" stroke-linecap="butt" fill="none">
<path stroke-width="6" d="M243 68V1530"/>
<path stroke-width="6" d="M2181 68V1530"/>
<path stroke-width="6" d="M211 71H2181"/>
<path stroke-width="7" d="M225 1498.5H2181"/>
<path stroke-width="6" d="M485.1 1498.5V1516M727.4 1498.5V1530M969.7 1498.5V1516M1212.0 1498.5V1530M1454.3 1498.5V1516M1696.6 1498.5V1530M1938.9 1498.5V1516M243 229.6H225.5M243 388.2H211M243 546.8H225.5M243 705.4H211M243 864.0H225.5M243 1022.6H211M243 1181.2H225.5M243 1339.8H211"/>
</g>
<text class="t" x="242.8" y="1596" text-anchor="middle">-0.4</text>
<text class="t" x="727.4" y="1596" text-anchor="middle">-0.2</text>
<text class="t" x="1212.0" y="1596" text-anchor="middle">0.0</text>
<text class="t" x="1696.6" y="1596" text-anchor="middle">0.2</text>
<text class="t" x="2181.2" y="1596" text-anchor="middle">0.4</text>
<text class="t" x="193" y="89.5" text-anchor="end">0.3</text>
<text class="t" x="193" y="406.7" text-anchor="end">0.2</text>
<text class="t" x="193" y="723.9" text-anchor="end">0.1</text>
<text class="t" x="193" y="1041.1" text-anchor="end">0.0</text>
<text class="t" x="193" y="1358.3" text-anchor="end">-0.1</text>
<text class="t" x="1212" y="1686.5" text-anchor="middle">PC1 (71.35%)</text>
<text class="t" transform="translate(77.6 828) rotate(-90)" text-anchor="middle">PC2 (21.76%)</text>
<rect x="1407.5" y="107.5" width="762.5" height="237.5" fill="#fff" stroke="#000" stroke-width="2.6"/>
<circle cx="1494.6" cy="150.2" r="18.6" fill="url(#gr)"/>
<text class="lg" x="1583" y="170.7">Esherichia coli</text>
<circle cx="1494.6" cy="228.6" r="18.6" fill="url(#gg)"/>
<text class="lg" x="1583" y="249">Staphylococcus aureus</text>
<circle cx="1494.6" cy="307" r="18.6" fill="url(#gb)"/>
<text class="lg" x="1583" y="326.5">Salmonella</text>
</svg></body></html>
